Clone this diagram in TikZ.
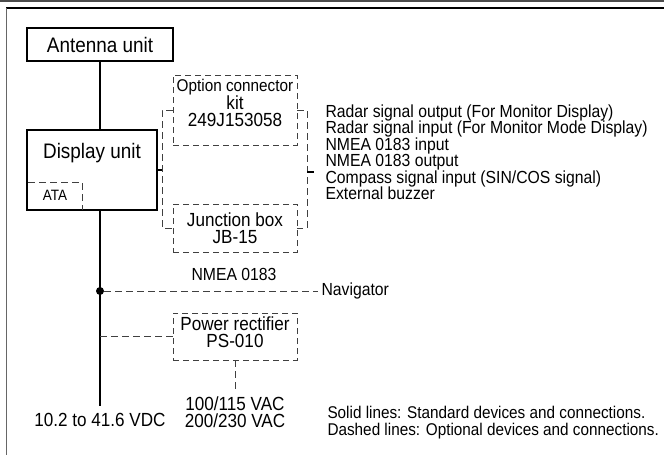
\documentclass[tikz,border=0pt]{standalone}
\usepackage{fontspec}
\setmainfont{Liberation Sans}[FakeStretch=0.9]
\tikzstyle{unit}=[draw, line width=1.4pt, inner sep=0pt]
\tikzstyle{option}=[draw=black!75, dash pattern=on 6pt off 4pt, line width=0.9pt, inner sep=0pt, align=center]
\tikzstyle{cable}=[line width=1.6pt]
\tikzstyle{optcable}=[black!75, dash pattern=on 7pt off 4pt, line width=0.9pt]
\tikzstyle{dot}=[circle, fill, minimum size=8pt, inner sep=0pt]
\newcommand{\bigfont}{\fontsize{21}{21}\selectfont}
\newcommand{\boxfont}{\fontsize{19}{17.5}\selectfont}
\newcommand{\labfont}{\fontsize{17.5}{16.5}\selectfont}

\begin{document}
\begin{tikzpicture}[x=1pt, y=-1pt]
\useasboundingbox (0,0) rectangle (664,455);
% frame
\draw[black!70, line width=2pt] (0,1) -- (664,1);
\draw[line width=1.3pt] (6,8) -- (664,8);
\draw[black!60, line width=1.5pt] (6.5,8) -- (6.5,455);

% standard units
\node[unit, minimum width=146pt, minimum height=33pt, font=\bigfont] at (100,44.5) (antenna) {Antenna unit};
\node[unit, minimum width=130pt, text height=28pt, text depth=52pt, font=\bigfont] at (92,170) (display) {Display unit};
\draw[optcable] (28,182) -| (82,210);
\node[font=\fontsize{15}{15}\selectfont] at (55,195) (ata) {ATA};

% optional units
\node[option, minimum width=124pt, minimum height=70pt] at (235,110) (kit) {};
\node[align=center, font=\boxfont] at (235,103) (kittext) {{\fontsize{17}{17.5}\selectfont Option connector}\\kit\\249J153058};
\node[option, minimum width=124pt, minimum height=48pt, font=\boxfont] at (235,228) (jbox) {Junction box\\JB-15};
\node[option, minimum width=124pt, minimum height=47pt] at (235,336.5) (power) {};
\node[align=center, font=\boxfont] at (235,332) (powertext) {Power rectifier\\PS-010};

% brackets
\coordinate (kitleft) at (162,170);
\coordinate (kitright) at (307,172);
\draw[optcable] (173,110) -- (162,110) -- (162,228) -- (173,228);
\draw[optcable] (297,110) -- (307,110) -- (307,228) -- (297,228);

% labels
\node[anchor=west, align=left, font=\labfont] at (322,152) (signals) {Radar signal output (For Monitor Display)\\Radar signal input (For Monitor Mode Display)\\NMEA 0183 input\\NMEA 0183 output\\Compass signal input (SIN/COS signal)\\External buzzer};
\node[anchor=west, font=\labfont] at (318,291) (navigator) {Navigator};
\node[font=\labfont] at (234,274) (nmea) {NMEA 0183};
\node[align=center, font=\boxfont] at (235,412) (ac) {100/115 VAC\\200/230 VAC};
\node[font=\boxfont] at (100,420) (dc) {10.2 to 41.6 VDC};
\node[anchor=west, align=left, font=\fontsize{17}{17}\selectfont] at (324,423) (legend) {Solid lines: Standard devices and connections.\\Dashed lines: Optional devices and connections.};

% connections
\coordinate (dcend) at (100,406);
\coordinate (ptap) at (100,336.5);
\draw[cable] (antenna) -- (antenna.south |- display.north);
\draw[cable] (antenna.south |- display.south) -- (dcend);
\draw[cable] (display.east) -- (kitleft);
\draw[cable] (kitright) -- ++(7,0);
\node[dot] at (100,291) (tee) {};
\draw[optcable] (tee) -- (navigator.west);
\draw[optcable] (ptap) -- (power.west);
\draw[optcable] (power.south) -- (ac.north);
\end{tikzpicture}
\end{document}
